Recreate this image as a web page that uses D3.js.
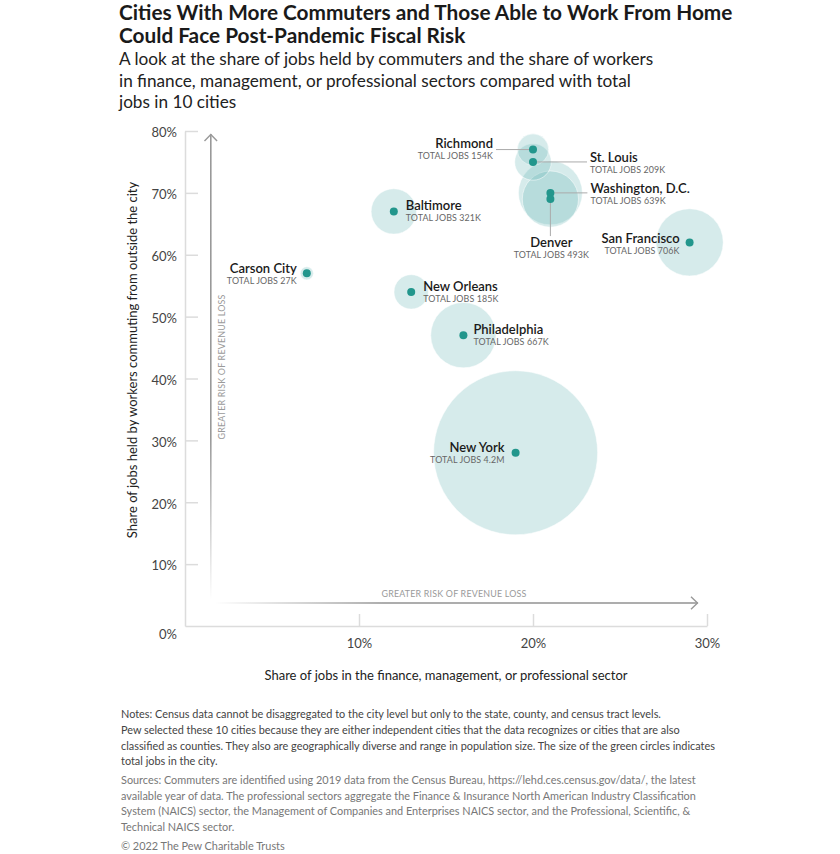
<!DOCTYPE html>
<html>
<head>
<meta charset="utf-8">
<script src="https://cdn.jsdelivr.net/npm/d3@7"></script>
<style>
  html, body { margin: 0; padding: 0; background: #fff; }
  svg { display: block; font-family: Lato, "Open Sans", sans-serif; }
</style>
</head>
<body>
<svg id="chart" width="840" height="854"></svg>
<script>
// ---- Data ----
const cities = ["Richmond", "St. Louis", "Washington, D.C.", "Denver", "San Francisco",
                "Baltimore", "Carson City", "New Orleans", "Philadelphia", "New York"];
const financeShare = [20, 20, 21, 21, 29, 12, 7, 13, 16, 19];      // % of jobs in finance/mgmt/prof
const commuterShare = [77, 75, 70, 69, 62, 67, 57, 54, 47, 28];    // % of jobs held by commuters
const totalJobsK = [154, 209, 639, 493, 706, 321, 27, 185, 667, 4200]; // thousands
const jobsLabel = ["154K", "209K", "639K", "493K", "706K", "321K", "27K", "185K", "667K", "4.2M"];
const xTicks = [10, 20, 30];
const yTicks = [0, 10, 20, 30, 40, 50, 60, 70, 80];

const titleLines = ["Cities With More Commuters and Those Able to Work From Home",
                    "Could Face Post-Pandemic Fiscal Risk"];
const subtitleLines = ["A look at the share of jobs held by commuters and the share of workers",
                       "in finance, management, or professional sectors compared with total",
                       "jobs in 10 cities"];
const notesLines = ["Notes: Census data cannot be disaggregated to the city level but only to the state, county, and census tract levels.",
  "Pew selected these 10 cities because they are either independent cities that the data recognizes or cities that are also",
  "classified as counties. They also are geographically diverse and range in population size. The size of the green circles indicates",
  "total jobs in the city."];
const sourcesLines = ["Sources: Commuters are identified using 2019 data from the Census Bureau, https://lehd.ces.census.gov/data/, the latest",
  "available year of data. The professional sectors aggregate the Finance & Insurance North American Industry Classification",
  "System (NAICS) sector, the Management of Companies and Enterprises NAICS sector, and the Professional, Scientific, &",
  "Technical NAICS sector."];
const credit = "© 2022 The Pew Charitable Trusts";

// ---- Label layout (offsets from each point, in px) ----
const labelLayout = {
  "Richmond":         { anchor: "end",    dx: -40, dy: -2, leader: [[-37, 0], [0, 0]] },
  "St. Louis":        { anchor: "start",  dx: 57,  dy: 0,  leader: [[0, 0], [54, 0]] },
  "Washington, D.C.": { anchor: "start",  dx: 40,  dy: 0,  leader: [[0, 0], [37, 0]] },
  "Denver":           { anchor: "middle", dx: 1,   dy: 48, leader: [[0, 0], [0, 37]] },
  "San Francisco":    { anchor: "end",    dx: -10, dy: 1 },
  "Baltimore":        { anchor: "start",  dx: 12,  dy: -1 },
  "Carson City":      { anchor: "end",    dx: -10, dy: 0 },
  "New Orleans":      { anchor: "start",  dx: 12,  dy: -1 },
  "Philadelphia":     { anchor: "start",  dx: 10,  dy: -1 },
  "New York":         { anchor: "end",    dx: -11, dy: -1 }
};

const svg = d3.select("#chart");

// ---- Title / subtitle ----
svg.append("g").selectAll("text").data(titleLines).join("text")
  .attr("x", 119).attr("y", (d, i) => 20 + i * 23)
  .attr("font-size", 20.8).attr("font-weight", 700).attr("fill", "#1a1a1a")
  .text(d => d);
svg.append("g").selectAll("text").data(subtitleLines).join("text")
  .attr("x", 119).attr("y", (d, i) => 65 + i * 21.5)
  .attr("font-size", 17.2).attr("fill", "#222")
  .text(d => d);

// ---- Scales ----
const x = d3.scaleLinear().domain([0, 30]).range([185, 707]);
const y = d3.scaleLinear().domain([0, 80]).range([626, 131]);
const r = d3.scaleSqrt().domain([0, 4200]).range([0, 82]);

// ---- Axes ----
const axisColor = "#dcdcdc";
const gx = svg.append("g").attr("transform", "translate(0,626)")
  .call(d3.axisBottom(x).tickValues(xTicks).tickSize(0).tickFormat(d => d + "%"));
gx.select(".domain").attr("stroke", axisColor).attr("stroke-width", 1.5);
gx.selectAll(".tick text").attr("font-size", 13).attr("fill", "#444")
  .attr("font-family", "Lato, sans-serif").attr("dy", "1.45em");
gx.selectAll(".tick").append("line").attr("y1", 0).attr("y2", -12)
  .attr("stroke", axisColor).attr("stroke-width", 1.5);

const gy = svg.append("g").attr("transform", "translate(185,0)")
  .call(d3.axisLeft(y).tickValues(yTicks).tickSize(0).tickFormat(d => d + "%"));
gy.select(".domain").attr("stroke", axisColor).attr("stroke-width", 1.5);
gy.selectAll(".tick text").attr("font-size", 13).attr("fill", "#444")
  .attr("font-family", "Lato, sans-serif").attr("x", -8)
  .attr("dy", d => d === 0 ? "0.95em" : "0.45em");
gy.selectAll(".tick").filter(d => d > 0).append("line").attr("x1", 0).attr("x2", 13)
  .attr("stroke", axisColor).attr("stroke-width", 1.5);

// ---- Risk arrows ----
const defs = svg.append("defs");
const gv = defs.append("linearGradient").attr("id", "gradV")
  .attr("gradientUnits", "userSpaceOnUse").attr("x1", 0).attr("y1", 600).attr("x2", 0).attr("y2", 134);
gv.append("stop").attr("offset", 0).attr("stop-color", "#999").attr("stop-opacity", 0);
gv.append("stop").attr("offset", 0.35).attr("stop-color", "#999").attr("stop-opacity", 1);
const gh = defs.append("linearGradient").attr("id", "gradH")
  .attr("gradientUnits", "userSpaceOnUse").attr("x1", 215).attr("y1", 0).attr("x2", 698).attr("y2", 0);
gh.append("stop").attr("offset", 0).attr("stop-color", "#999").attr("stop-opacity", 0);
gh.append("stop").attr("offset", 0.35).attr("stop-color", "#999").attr("stop-opacity", 1);

svg.append("rect").attr("x", 210).attr("y", 134).attr("width", 1.6).attr("height", 466).attr("fill", "url(#gradV)");
svg.append("path").attr("d", "M204.5,141 L210.8,134.5 L217.1,141").attr("fill", "none").attr("stroke", "#999").attr("stroke-width", 1.4);
svg.append("rect").attr("x", 215).attr("y", 602.2).attr("width", 483).attr("height", 1.6).attr("fill", "url(#gradH)");
svg.append("path").attr("d", "M691,596.7 L697.5,603 L691,609.3").attr("fill", "none").attr("stroke", "#999").attr("stroke-width", 1.4);

svg.append("text").attr("transform", "translate(225,367) rotate(-90)")
  .attr("text-anchor", "middle").attr("font-size", 8.9).attr("fill", "#9a9a9a").attr("letter-spacing", 0.2)
  .text("GREATER RISK OF REVENUE LOSS");
svg.append("text").attr("x", 454).attr("y", 597)
  .attr("text-anchor", "middle").attr("font-size", 8.9).attr("fill", "#9a9a9a").attr("letter-spacing", 0.2)
  .text("GREATER RISK OF REVENUE LOSS");

// ---- Axis titles ----
svg.append("text").attr("transform", "translate(137,360) rotate(-90)")
  .attr("text-anchor", "middle").attr("font-size", 13).attr("fill", "#222")
  .text("Share of jobs held by workers commuting from outside the city");
svg.append("text").attr("x", 446).attr("y", 680)
  .attr("text-anchor", "middle").attr("font-size", 13).attr("fill", "#222")
  .text("Share of jobs in the finance, management, or professional sector");

// ---- Bubbles ----
const data = cities.map((c, i) => ({
  city: c, fx: financeShare[i], cy: commuterShare[i], jobs: totalJobsK[i], jl: jobsLabel[i]
}));
const bySize = data.slice().sort((a, b) => b.jobs - a.jobs);

svg.append("g").selectAll("circle").data(bySize).join("circle")
  .attr("cx", d => x(d.fx)).attr("cy", d => y(d.cy)).attr("r", d => r(d.jobs))
  .attr("fill", "#62b0b2").attr("fill-opacity", 0.26)
  .attr("stroke", "#ffffff").attr("stroke-opacity", 0.5).attr("stroke-width", 1);

// leader lines
svg.append("g").selectAll("line").data(data.filter(d => labelLayout[d.city].leader)).join("line")
  .attr("x1", d => x(d.fx) + labelLayout[d.city].leader[0][0])
  .attr("y1", d => y(d.cy) + labelLayout[d.city].leader[0][1])
  .attr("x2", d => x(d.fx) + labelLayout[d.city].leader[1][0])
  .attr("y2", d => y(d.cy) + labelLayout[d.city].leader[1][1])
  .attr("stroke", "#aaa").attr("stroke-width", 1);

// dots
svg.append("g").selectAll("circle").data(data).join("circle")
  .attr("cx", d => x(d.fx)).attr("cy", d => y(d.cy)).attr("r", 4)
  .attr("fill", "#22968c");

// labels
const lg = svg.append("g").selectAll("g").data(data).join("g")
  .attr("transform", d => `translate(${x(d.fx) + labelLayout[d.city].dx},${y(d.cy) + labelLayout[d.city].dy})`);
lg.append("text").attr("text-anchor", d => labelLayout[d.city].anchor)
  .attr("font-size", 13).attr("font-weight", 600).attr("fill", "#1a1a1a")
  .text(d => d.city);
lg.append("text").attr("y", 11).attr("text-anchor", d => labelLayout[d.city].anchor)
  .attr("font-size", 8.9).attr("fill", "#666").attr("letter-spacing", 0.1)
  .text(d => "TOTAL JOBS " + d.jl);

// ---- Notes ----
svg.append("g").selectAll("text").data(notesLines).join("text")
  .attr("x", 121).attr("y", (d, i) => 718 + i * 15.8)
  .attr("font-size", 10.9).attr("fill", "#444").text(d => d);
svg.append("g").selectAll("text").data(sourcesLines).join("text")
  .attr("x", 121).attr("y", (d, i) => 784 + i * 15.5)
  .attr("font-size", 10.9).attr("fill", "#777").text(d => d);
svg.append("text").attr("x", 121).attr("y", 850)
  .attr("font-size", 10.9).attr("fill", "#777").text(credit);
</script>
</body>
</html>
